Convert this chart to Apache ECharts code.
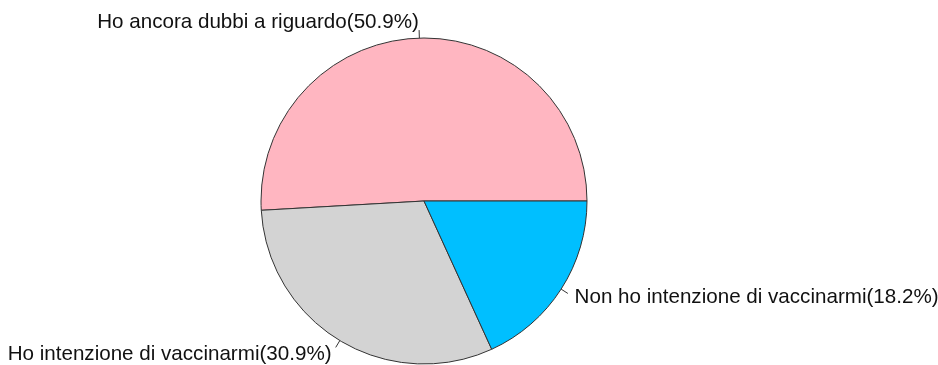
<!DOCTYPE html>
<html>
<head>
<meta charset="utf-8">
<script src="https://cdn.jsdelivr.net/npm/echarts@6/dist/echarts.min.js"></script>
<style>
  html, body { margin: 0; padding: 0; background: #fff; }
  #pie_show { width: 938px; height: 365px; }
</style>
</head>
<body>
<div id="pie_show"></div>
<script>
// dati del grafico (risposte: 28 / 17 / 10 su 55)
var categories = ['Ho ancora dubbi a riguardo', 'Ho intenzione di vaccinarmi', 'Non ho intenzione di vaccinarmi'];
var counts = [28, 17, 10];
var percentLabels = ['50.9%', '30.9%', '18.2%'];
var colors = ['#ffb6c1', '#d3d3d3', '#00bfff'];

var data = [];
for (var i = 0; i < categories.length; i++) {
    data.push({ value: counts[i], name: categories[i] + '(' + percentLabels[i] + ')' });
}

var myChart = echarts.init(document.getElementById('pie_show'));

var option = {
    animation: false,
    color: colors,
    series: [
        {
            type: 'pie',
            center: [424, 201],
            radius: 163,
            startAngle: 0,
            clockwise: false,
            avoidLabelOverlap: false,
            itemStyle: {
                borderColor: '#333',
                borderWidth: 1
            },
            label: {
                show: true,
                position: 'outside',
                formatter: '{b}',
                color: '#111',
                fontFamily: 'Liberation Sans, Arial, sans-serif',
                fontSize: 20.6,
                distanceToLabelLine: 0
            },
            labelLine: {
                show: true,
                length: 16,
                length2: 0,
                lineStyle: { color: '#333', width: 1 }
            },
            // come in R: il testo sta a 1.1 r, la lineetta arriva solo a 1.05 r
            labelLayout: function (params) {
                var p = params.labelLinePoints;
                if (!p) return {};
                var m = [(p[0][0] + p[1][0]) / 2, (p[0][1] + p[1][1]) / 2];
                return { labelLinePoints: [p[0], m, m] };
            },
            emphasis: { disabled: true },
            data: data
        }
    ]
};
myChart.setOption(option);
</script>
</body>
</html>
